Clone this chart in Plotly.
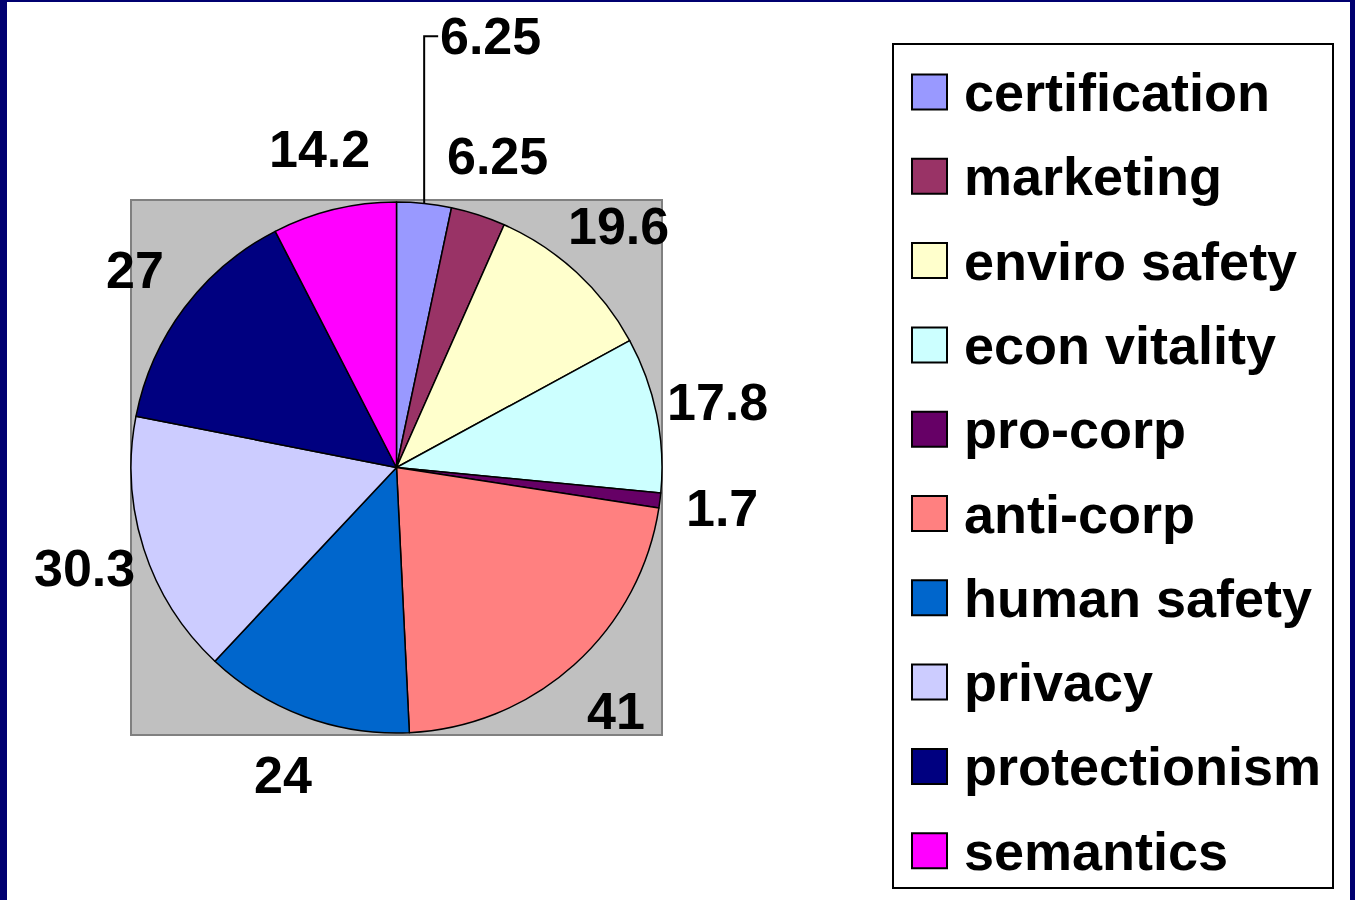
import math
import plotly.graph_objects as go

# --- data ---
categories = ["certification", "marketing", "enviro safety", "econ vitality", "pro-corp",
              "anti-corp", "human safety", "privacy", "protectionism", "semantics"]
values = [6.25, 6.25, 19.6, 17.8, 1.7, 41, 24, 30.3, 27, 14.2]
value_labels = ["6.25", "6.25", "19.6", "17.8", "1.7", "41", "24", "30.3", "27", "14.2"]
colors = ["#9999FF", "#993366", "#FFFFCC", "#CCFFFF", "#660066",
          "#FF8080", "#0066CC", "#CCCCFF", "#000080", "#FF00FF"]

W, H = 1355, 900
FONT = "Liberation Sans, Arial, sans-serif"
LABEL_SIZE = 52


def px(x):
    return x / W


def py(y):
    return 1 - y / H


# plot area (gray square) in pixels
PA = dict(x0=131, x1=662, y0=200, y1=735)
cx = (PA["x0"] + PA["x1"]) / 2
cy = (PA["y0"] + PA["y1"]) / 2
radius = min(PA["x1"] - PA["x0"], PA["y1"] - PA["y0"]) / 2

fig = go.Figure()

fig.add_trace(go.Pie(
    labels=categories,
    values=values,
    sort=False,
    direction="clockwise",
    rotation=0,
    marker=dict(colors=colors, line=dict(color="black", width=1.5)),
    textinfo="none",
    domain=dict(x=[px(PA["x0"]), px(PA["x1"])], y=[py(PA["y1"]), py(PA["y0"])]),
    showlegend=False,
    hoverinfo="label+value",
))

# --- value labels, Excel-style: outside the pie along each slice's mid angle ---
total = sum(values)
mids, cum = [], 0
for v in values:
    mids.append(2 * math.pi * (cum + v / 2) / total)
    cum += v

label_pos = [(cx + 1.235 * radius * math.sin(a), cy - 1.235 * radius * math.cos(a)) for a in mids]

# lift a label when it collides with the next one (small slices at 12 o'clock)
lab_w, lab_h = 105, 45
moved = [False] * len(values)
for i in range(len(values) - 1):
    (x1, y1), (x2, y2) = label_pos[i], label_pos[i + 1]
    if abs(x1 - x2) < lab_w and abs(y1 - y2) < lab_h:
        label_pos[i] = (x1, y2 - 2.65 * lab_h)
        moved[i] = True

shapes = [
    # white page inside the navy frame
    dict(type="rect", xref="paper", yref="paper", x0=px(7), x1=px(1350), y0=py(900), y1=py(2),
         fillcolor="white", line=dict(width=0), layer="below"),
    # gray plot area
    dict(type="rect", xref="paper", yref="paper", x0=px(PA["x0"]), x1=px(PA["x1"]),
         y0=py(PA["y1"]), y1=py(PA["y0"]),
         fillcolor="#C0C0C0", line=dict(color="#808080", width=2), layer="below"),
    # legend box
    dict(type="rect", xref="paper", yref="paper", x0=px(893), x1=px(1333), y0=py(888), y1=py(44),
         fillcolor="white", line=dict(color="black", width=2), layer="below"),
]

annotations = []
for a, (lx, ly), txt, mv in zip(mids, label_pos, value_labels, moved):
    lab_font = dict(family=FONT, size=LABEL_SIZE, color="black", weight="bold")
    if mv:
        # elbow leader line: up from the slice edge, then right to the label
        ex, ey = cx + radius * math.sin(a), cy - radius * math.cos(a)
        shapes.append(dict(type="path", xref="paper", yref="paper",
                           path=f"M {px(ex)},{py(ey)} L {px(ex)},{py(ly)} L {px(ex + 14)},{py(ly)}",
                           line=dict(color="black", width=2), layer="above"))
        annotations.append(dict(x=px(ex + 14), y=py(ly), xref="paper", yref="paper",
                                text=txt, showarrow=False, xanchor="left", yanchor="middle",
                                font=lab_font))
    else:
        annotations.append(dict(x=px(lx), y=py(ly), xref="paper", yref="paper",
                                text=txt, showarrow=False, xanchor="center", yanchor="middle",
                                font=lab_font))

# hand-built legend so the swatches can be as large as in the original
row_top, row_step, sw = 92, 84.3, 35
for i, (name, col) in enumerate(zip(categories, colors)):
    ry = row_top + i * row_step
    shapes.append(dict(type="rect", xref="paper", yref="paper",
                       x0=px(912), x1=px(912 + sw), y0=py(ry + sw / 2), y1=py(ry - sw / 2),
                       fillcolor=col, line=dict(color="black", width=2), layer="above"))
    annotations.append(dict(x=px(962), y=py(ry), xref="paper", yref="paper",
                            text=name, showarrow=False, xanchor="left", yanchor="middle",
                            font=dict(family=FONT, size=54, color="black", weight="bold")))

fig.update_layout(
    width=W, height=H,
    margin=dict(l=0, r=0, t=0, b=0),
    paper_bgcolor="#000070",
    plot_bgcolor="white",
    shapes=shapes,
    annotations=annotations,
    showlegend=False,
)

fig.write_html("out.html", config={"displayModeBar": False},
               post_script="document.body.style.margin = '0';")
